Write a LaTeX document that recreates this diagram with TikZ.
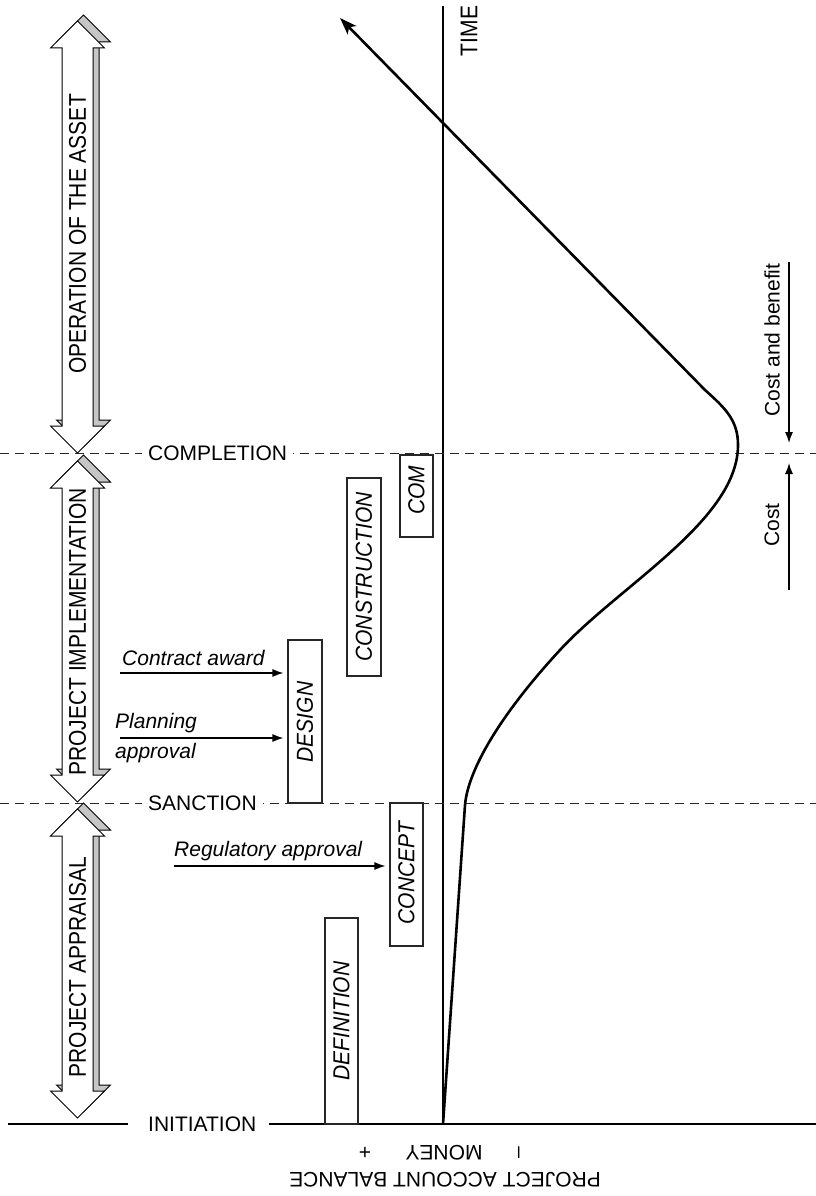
\documentclass[tikz,border=0pt]{standalone}
\usepackage{fontspec}
\usepackage{graphicx}
\setmainfont{Liberation Sans}
\usetikzlibrary{arrows.meta}

% outline of a double-headed block arrow: #1 style, #2 upper barb y, #3 lower barb y
\newcommand\phaseshape[3]{%
  \path[#1] (77.5,#2-27) -- (104.5,#2) -- (93,#2) -- (93,#3) -- (104.5,#3)
    -- (77.5,#3+27) -- (50.5,#3) -- (62,#3) -- (62,#2) -- (50.5,#2) -- cycle;}
% extruded block arrow: grey back face offset up-right, white front face
\newcommand\phasearrow[2]{%
  \begin{scope}[shift={(6,-6)}]\phaseshape{backface}{#1}{#2}\end{scope}%
  \phaseshape{frontface}{#1}{#2}}
% taller lettering for the vertical captions
\newcommand\tallcaps[2]{\scalebox{1}[#1]{#2}}

\begin{document}
\begin{tikzpicture}[x=1pt, y=-1pt,
  every node/.style={inner sep=0pt, font=\fontsize{21}{25}\selectfont},
  axisline/.style={line width=1.3pt},
  milestone/.style={dash pattern=on 9pt off 6pt, line width=1pt, draw=black!85},
  milestonelabel/.style={fill=white, inner xsep=6pt, inner ysep=3pt, anchor=west},
  stagebox/.style={draw=black!85, line width=1.2pt, fill=white},
  stagelabel/.style={rotate=90, font=\fontsize{21}{25}\selectfont\itshape},
  phaselabel/.style={rotate=90},
  eventarrow/.style={line width=1.2pt, -{Latex[length=11pt,width=8pt]}, shorten >=4pt},
  eventlabel/.style={font=\fontsize{21}{25}\selectfont\itshape, anchor=base west},
  balance/.style={line width=2.6pt, line join=round, -{Stealth[length=17pt,width=12pt,inset=4pt]}},
  backface/.style={fill=gray!45, draw=black, line width=1pt},
  frontface/.style={fill=white, draw=black, line width=1pt},
]
\useasboundingbox (0,0) rectangle (816,1196);

% money axis and time label
\coordinate (axistop) at (443,6);
\coordinate (axisbottom) at (443,1124);
\draw[axisline] (axistop) -- (axisbottom);
\node[rotate=90] (time) at (469,31) {\tallcaps{1.15}{TIME}};

% milestone lines
\coordinate (compL) at (0,453);
\coordinate (compR) at (816,453);
\draw[milestone] (compL) -- (compR);
\node[milestonelabel] (completion) at (142,453) {COMPLETION};

\coordinate (sancL) at (0,803);
\coordinate (sancR) at (816,803);
\draw[milestone] (sancL) -- (sancR);
\node[milestonelabel] (sanction) at (142,803) {SANCTION};

\node[anchor=west] (initiation) at (148,1124) {INITIATION};
\coordinate (baseL) at (8,1124);
\coordinate (baseR) at (816,1124);
\draw[axisline] (baseL) -- ([xshift=-20pt]initiation.west);
\draw[axisline] ([xshift=12pt]initiation.east) -- (baseR);

% project phases
\phasearrow{48}{426}
\phasearrow{488}{775}
\phasearrow{836}{1091}
\node[phaselabel] (operation) at (77.5,234) {\tallcaps{1.15}{OPERATION OF THE ASSET}};
\node[phaselabel] (implementation) at (77.5,632) {\tallcaps{1.15}{PROJECT IMPLEMENTATION}};
\node[phaselabel] (appraisal) at (77.5,967) {\tallcaps{1.15}{PROJECT APPRAISAL}};

% stages
\node[stagebox, minimum width=33pt, minimum height=206pt] (definition) at (341.5,1021) {};
\node[stagelabel] (definitiontext) at (341.5,1021) {\tallcaps{1.1}{DEFINITION}};
\node[stagebox, minimum width=33pt, minimum height=143pt] (concept) at (406.5,874.5) {};
\node[stagelabel] (concepttext) at (406.5,873) {\tallcaps{1.1}{CONCEPT}};
\node[stagebox, minimum width=34pt, minimum height=163pt] (design) at (305,721.5) {};
\node[stagelabel] (designtext) at (305,722) {\tallcaps{1.1}{DESIGN}};
\node[stagebox, minimum width=34pt, minimum height=198pt] (construction) at (364,577) {};
\node[stagelabel] (constructiontext) at (364,577) {\tallcaps{1.1}{CONSTRUCTION}};
\node[stagebox, minimum width=33pt, minimum height=82pt] (com) at (416.5,496) {};
\node[stagelabel] (comtext) at (416.5,490) {\tallcaps{1.1}{COM}};

% approvals and awards
\coordinate (caS) at (120,673);
\draw[eventarrow] (caS) -- (caS -| design.west);
\node[eventlabel] (calabel) at (122,665) {Contract award};
\coordinate (paS) at (120,738);
\draw[eventarrow] (paS) -- (paS -| design.west);
\node[eventlabel] (palabel1) at (115,728) {Planning};
\node[eventlabel] (palabel2) at (115,758) {approval};
\coordinate (raS) at (174,866);
\draw[eventarrow] (raS) -- (raS -| concept.west);
\node[eventlabel] (ralabel) at (174,856) {Regulatory approval};

% cost / benefit indicators
\coordinate (cbS) at (789,262);
\coordinate (cbE) at (789,443);
\draw[eventarrow, shorten >=0pt] (cbS) -- (cbE);
\node[rotate=90] (cblabel) at (772,340) {Cost and benefit};
\coordinate (cS) at (789,590);
\coordinate (cE) at (789,463);
\draw[eventarrow, shorten >=0pt] (cS) -- (cE);
\node[rotate=90] (clabel) at (772,525) {Cost};

% project account balance curve
\coordinate (b0) at (443,1124);
\coordinate (b1) at (465,805);
\coordinate (b2) at (560,650);
\coordinate (b3) at (738,445);
\coordinate (b4) at (705,390);
\coordinate (b5) at (340,18);
\draw[balance] (b0) -- (b1) .. controls (468,770) and (500,715) .. (b2)
  .. controls (620,585) and (738,520) .. (b3)
  .. controls (738,420) and (725,408) .. (b4) -- (b5);

% money scale
\node (plus) at (365,1153) {+};
\node[rotate=180] (money) at (444,1153) {MONEY};
\node[rotate=90] (minus) at (521,1153) {--};
\node[rotate=180] (pab) at (445,1180) {PROJECT ACCOUNT BALANCE};
\end{tikzpicture}
\end{document}
